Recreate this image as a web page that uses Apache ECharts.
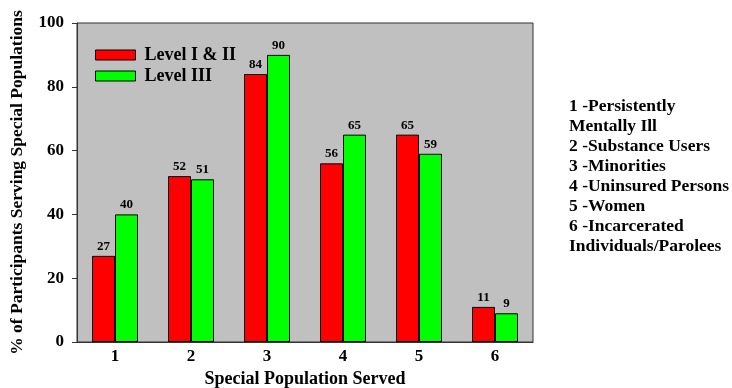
<!DOCTYPE html>
<html>
<head>
<meta charset="utf-8">
<script src="https://cdn.jsdelivr.net/npm/echarts@6/dist/echarts.min.js"></script>
<style>
  html, body { margin: 0; padding: 0; background: #fff; }
  #chart { width: 732px; height: 388px; }
</style>
</head>
<body>
<div id="chart"></div>
<script>
// Special populations served, by level
const categories = ['1', '2', '3', '4', '5', '6'];
const levelOneTwo = [27, 52, 84, 56, 65, 11];
const levelThree = [40, 51, 90, 65, 59, 9];
const seriesNames = ['Level I & II', 'Level III'];
const yTicks = [0, 20, 40, 60, 80, 100];
const keyLines = [
  '1 -Persistently',
  'Mentally Ill',
  '2 -Substance Users',
  '3 -Minorities',
  '4 -Uninsured Persons',
  '5 -Women',
  '6 -Incarcerated',
  'Individuals/Parolees'
];

const serif = '"Liberation Serif", "Times New Roman", serif';
const chart = echarts.init(document.getElementById('chart'), null, { renderer: 'canvas' });

const labelStyle = {
  show: true,
  position: 'top',
  distance: 3,
  fontFamily: serif,
  fontWeight: 'bold',
  fontSize: 13,
  color: '#000'
};

chart.setOption({
  animation: false,
  grid: {
    left: 77, top: 23, width: 456, height: 319,
    outerBoundsMode: 'none',
    containLabel: false,
    show: true,
    backgroundColor: '#c0c0c0',
    borderColor: '#333',
    borderWidth: 1
  },
  legend: {
    left: 90, top: 41,
    orient: 'vertical',
    icon: 'rect',
    itemWidth: 40, itemHeight: 10,
    itemGap: 3,
    data: seriesNames,
    itemStyle: { borderColor: '#000', borderWidth: 1 },
    textStyle: { fontFamily: serif, fontWeight: 'bold', fontSize: 18, color: '#000', padding: [0, 0, 0, 4] }
  },
  xAxis: {
    type: 'category',
    data: categories,
    name: 'Special Population Served',
    nameLocation: 'middle',
    nameGap: 27,
    nameTextStyle: { fontFamily: serif, fontWeight: 'bold', fontSize: 18, color: '#000' },
    axisLine: { lineStyle: { color: '#333', width: 1 } },
    axisTick: { show: false },
    axisLabel: { fontFamily: serif, fontWeight: 'bold', fontSize: 17, color: '#000', margin: 6 }
  },
  yAxis: {
    type: 'value',
    min: yTicks[0], max: yTicks[yTicks.length - 1], interval: 20,
    name: '% of Participants Serving Special Populations',
    nameLocation: 'middle',
    nameGap: 51,
    nameTextStyle: { fontFamily: serif, fontWeight: 'bold', fontSize: 17.5, color: '#000' },
    axisLine: { show: true, lineStyle: { color: '#333', width: 1 } },
    axisTick: { show: true, length: 5, lineStyle: { color: '#333' } },
    splitLine: { show: false },
    axisLabel: { fontFamily: serif, fontWeight: 'bold', fontSize: 17, color: '#000', margin: 13 }
  },
  series: [
    {
      name: seriesNames[0],
      type: 'bar',
      data: levelOneTwo,
      barWidth: 23,
      barGap: '0%',
      itemStyle: { color: '#ff0000', borderColor: '#000', borderWidth: 1 },
      label: labelStyle
    },
    {
      name: seriesNames[1],
      type: 'bar',
      data: levelThree,
      barWidth: 23,
      barGap: '0%',
      itemStyle: { color: '#00ff00', borderColor: '#000', borderWidth: 1 },
      label: labelStyle
    }
  ],
  graphic: [
    {
      type: 'text',
      left: 569, top: 96,
      style: {
        text: keyLines.join('\n'),
        fontFamily: serif,
        fontWeight: 'bold',
        fontSize: 17.5,
        lineHeight: 20,
        fill: '#000'
      }
    }
  ]
});
</script>
</body>
</html>
